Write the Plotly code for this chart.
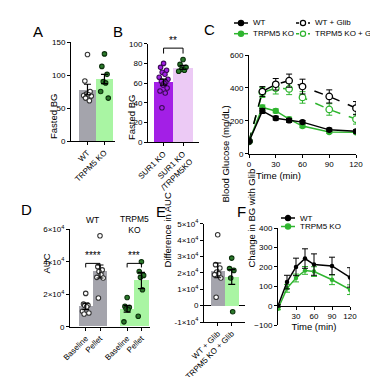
import plotly.graph_objects as go
import numpy as np

W, H = 378, 377
FONT = "Liberation Sans, Arial, sans-serif"

# ---------------- data ----------------
# Panel A
a_groups = ["WT", "TRPM5 KO"]
a_means = [78, 94]
a_sem = [8, 7]
a_wt = [131, 91, 75, 71, 70, 69, 68, 65, 61]
a_ko = [132, 113, 101, 90, 88, 75, 65]

# Panel B
b_groups = ["SUR1 KO", "SUR1 KO<br>/TRPM5KO"]
b_means = [61, 76]
b_sem = [3, 2]
b_sur1 = [80, 76, 73, 71, 69, 66, 64, 62, 61, 60, 58, 55, 52, 50, 35]
b_dko = [84, 79, 76, 74, 73, 72]

# Panel C
time = [0, 15, 30, 45, 60, 90, 120]
c_wt = [75, 260, 216, 202, 192, 145, 136]
c_wt_err = [8, 15, 12, 12, 10, 10, 10]
c_ko = [75, 281, 260, 210, 168, 132, 130]
c_ko_err = [8, 15, 12, 12, 10, 8, 8]
c_wtg = [75, 378, 422, 444, 408, 348, 277]
c_wtg_err = [8, 30, 35, 40, 45, 40, 40]
c_kog = [75, 372, 398, 394, 342, 269, 210]
c_kog_err = [8, 30, 35, 35, 35, 35, 30]
c_names = ["WT", "TRPM5 KO", "WT + Glib", "TRPM5 KO + Glib"]

# Panel D
d_ticks = ["Baseline", "Pellet", "Baseline", "Pellet"]
d_means = [12500, 34000, 11000, 28500]
d_sem = [2000, 4000, 2000, 5000]
d_wt_base = [20500, 14000, 13200, 13000, 12300, 9500, 8400, 7800]
d_wt_pel = [56000, 37000, 35000, 34000, 32000, 30400, 30000, 17700]
d_ko_base = [18000, 12500, 12000, 11000, 10500, 3000]
d_ko_pel = [40000, 34000, 31600, 30400, 22800, 6400]

# Panel E
e_groups = ["WT + Glib", "TRPM5 KO + Glib"]
e_means = [21500, 17500]
e_sem = [4500, 4500]
e_wt = [43300, 25000, 23000, 20500, 19500, 18900, 16900, 5100]
e_ko = [29000, 22600, 21500, 16900, -3700]

# Panel F
f_wt = [0, 122, 200, 243, 212, 205, 146]
f_wt_err = [5, 35, 45, 50, 55, 45, 50]
f_ko = [-15, 90, 143, 182, 176, 134, 83]
f_ko_err = [5, 20, 20, 20, 25, 25, 25]
f_names = ["WT", "TRPM5 KO"]

# ---------------- colors ----------------
GRAY = "#a4a4ac"
LGREEN = "#a9f5a3"
PURPLE = "#a31fe6"
PINK = "#eccaf5"
GREEN = "#2fb52f"
DKGREEN = "#2b7a2b"


def dx(p0, p1):
    return [p0 / W, p1 / W]


def dy(top, bottom):
    return [1 - bottom / H, 1 - top / H]


def jitter(n, spread=0.28):
    pat = [0.0, -0.55, 0.55, -0.25, 0.25, -0.8, 0.8, -0.4, 0.4, 0.1, -0.1, 0.65, -0.65, 0.3, -0.3]
    return np.array([pat[i % len(pat)] for i in range(n)]) * spread


fig = go.Figure()

axis_style = dict(showline=True, linecolor="black", linewidth=1, ticks="outside",
                  ticklen=3, tickwidth=1, tickcolor="black", showgrid=False, automargin=False,
                  zeroline=False, tickfont=dict(size=8, color="black", family=FONT))


def bar_panel(xa, ya, positions, means, sems, colors, dot_sets, dot_styles, width=1.0):
    for p, m, c in zip(positions, means, colors):
        fig.add_trace(go.Bar(x=[p], y=[m], width=width, marker=dict(color=c, line=dict(width=0)),
                             xaxis=xa, yaxis=ya, showlegend=False))
    for p, vals, st in zip(positions, dot_sets, dot_styles):
        vals = np.array(vals)
        fig.add_trace(go.Scatter(x=p + jitter(len(vals)), y=vals, mode="markers",
                                 marker=dict(size=4.5, color=st[0], line=dict(color=st[1], width=1.1)),
                                 xaxis=xa, yaxis=ya, showlegend=False, cliponaxis=False))
    fig.add_trace(go.Scatter(x=positions, y=means, mode="lines", line=dict(width=0),
                             error_y=dict(type="data", array=sems, color="black", thickness=1.2, width=3.5),
                             xaxis=xa, yaxis=ya, showlegend=False))


OPEN = ("white", "#333333")
FILLG = (DKGREEN, "#0b300b")
FILLP = (PURPLE, "#3a0a55")

# Panel A
bar_panel("x", "y", [0, 1], a_means, a_sem, [GRAY, LGREEN], [a_wt, a_ko], [OPEN, FILLG])
fig.update_layout(
    xaxis=dict(domain=dx(63, 107), range=[-0.97, 1.62], tickvals=[0, 1], ticktext=a_groups,
               tickangle=-45, anchor="y", **axis_style),
    yaxis=dict(domain=dy(34, 133), range=[0, 150], tickvals=[0, 50, 100, 150], anchor="x", **axis_style),
)

# Panel B
bar_panel("x2", "y2", [0, 1], b_means, b_sem, [PURPLE, PINK], [b_sur1, b_dko], [FILLP, FILLG])
fig.update_layout(
    xaxis2=dict(domain=dx(140, 191), range=[-0.8, 1.82], tickvals=[0, 1], ticktext=b_groups,
                tickangle=-45, anchor="y2", **axis_style),
    yaxis2=dict(domain=dy(35.7, 134.3), range=[0, 100], tickvals=[0, 20, 40, 60, 80, 100], anchor="x2", **axis_style),
)
fig.add_shape(type="path", path="M 0,90 L 0,95.5 L 1,95.5 L 1,90", xref="x2", yref="y2",
              line=dict(color="black", width=1))
fig.add_annotation(x=0.5, y=96, xref="x2", yref="y2", text="**", showarrow=False,
                   yanchor="bottom", font=dict(size=10, color="black", family=FONT))

# Panel C
c_series = [
    (c_wt, c_wt_err, "black", "solid", False),
    (c_ko, c_ko_err, GREEN, "solid", False),
    (c_wtg, c_wtg_err, "black", "dash", True),
    (c_kog, c_kog_err, GREEN, "dash", True),
]
for (vals, err, col, dash, opn), name in zip(c_series[::-1], c_names[::-1]):
    fig.add_trace(go.Scatter(
        x=time, y=vals, mode="lines+markers", name=name,
        line=dict(color=col, width=1.5, dash=dash),
        marker=dict(size=6.5 if opn else 5, color="white" if opn else col, line=dict(color=col, width=1.3),
                    symbol="circle"),
        error_y=dict(type="data", array=err, color=col, thickness=1, width=3),
        xaxis="x3", yaxis="y3", showlegend=False))
fig.update_layout(
    xaxis3=dict(domain=dx(241, 348), range=[0, 120], tickvals=[0, 30, 60, 90, 120], anchor="y3", **axis_style),
    yaxis3=dict(domain=dy(47, 145.7), range=[0, 600], tickvals=[0, 200, 400, 600], anchor="x3", **axis_style),
)

# Panel D
gap = 0.9
d_pos = [0, 1, 2 + gap, 3 + gap]
bar_panel("x4", "y4", d_pos, d_means, d_sem, [GRAY, GRAY, LGREEN, LGREEN],
          [d_wt_base, d_wt_pel, d_ko_base, d_ko_pel], [OPEN, OPEN, FILLG, FILLG])
fig.update_layout(
    xaxis4=dict(domain=dx(62, 142), range=[-1.1, 4.5], tickvals=d_pos, ticktext=d_ticks,
                tickangle=-45, anchor="y4", **axis_style),
    yaxis4=dict(domain=dy(221.3, 318.7), range=[0, 60000], tickvals=[0, 20000, 40000, 60000],
                ticktext=["0", "2×10<sup>4</sup>", "4×10<sup>4</sup>", "6×10<sup>4</sup>"], anchor="x4", **axis_style),
)
for (p0, p1), stars in [((d_pos[0], d_pos[1]), "****"), ((d_pos[2], d_pos[3]), "***")]:
    fig.add_shape(type="path", path=f"M {p0},36500 L {p0},39000 L {p1},39000 L {p1},36500",
                  xref="x4", yref="y4", line=dict(color="black", width=1))
    fig.add_annotation(x=(p0 + p1) / 2, y=39500, xref="x4", yref="y4", text=stars, showarrow=False,
                       yanchor="bottom", font=dict(size=10, color="black", family=FONT))
fig.add_annotation(x=(d_pos[0] + d_pos[1]) / 2, y=1 - 212 / H, xref="x4", yref="paper", text="WT",
                   showarrow=False, font=dict(size=8.5, color="black", family=FONT))
fig.add_annotation(x=(d_pos[2] + d_pos[3]) / 2, y=1 - 216 / H, xref="x4", yref="paper", text="TRPM5<br>KO",
                   showarrow=False, font=dict(size=8.5, color="black", family=FONT))

# Panel E
bar_panel("x5", "y5", [0, 1], e_means, e_sem, [GRAY, LGREEN], [e_wt, e_ko], [OPEN, FILLG])
fig.update_layout(
    xaxis5=dict(domain=dx(196, 237), range=[-0.98, 1.95], tickvals=[0, 1], ticktext=e_groups,
                tickangle=-45, anchor="y5", **axis_style),
    yaxis5=dict(domain=dy(215.7, 314), range=[-10000, 50000],
                tickvals=[-10000, 0, 10000, 20000, 30000, 40000, 50000],
                ticktext=["-1×10<sup>4</sup>", "0", "1×10<sup>4</sup>", "2×10<sup>4</sup>", "3×10<sup>4</sup>",
                          "4×10<sup>4</sup>", "5×10<sup>4</sup>"], anchor="x5", **axis_style),
)
fig.layout.yaxis5.update(zeroline=True, zerolinecolor="black", zerolinewidth=1)

# Panel F (time axis crosses at y = 0)
f_dom = dy(220, 317.3)
f_rng = [-100, 400]
f_zero = f_dom[0] + (0 - f_rng[0]) / (f_rng[1] - f_rng[0]) * (f_dom[1] - f_dom[0])
for vals, err, col, name in [(f_wt, f_wt_err, "black", f_names[0]), (f_ko, f_ko_err, GREEN, f_names[1])][::-1]:
    fig.add_trace(go.Scatter(
        x=time, y=vals, mode="lines+markers", name=name,
        line=dict(color=col, width=1.5), marker=dict(size=4.5, color=col),
        error_y=dict(type="data", array=err, color=col, thickness=1, width=3),
        xaxis="x6", yaxis="y6", showlegend=False))
fig.update_layout(
    xaxis6=dict(domain=dx(270, 342), range=[0, 120], tickvals=[30, 60, 90, 120], anchor="free",
                position=f_zero,
                title=dict(text="Time (min)", standoff=1, font=dict(size=9.5, color="black", family=FONT)),
                **axis_style),
    yaxis6=dict(domain=f_dom, range=f_rng, tickvals=[-100, 0, 100, 200, 300, 400], anchor="x6", **axis_style),
)

# ---------------- manual legends ----------------
def legend_entry(x0, yc, col, dash, opn, text, size=8):
    xs, xe = x0 / W, (x0 + 14) / W
    y = 1 - yc / H
    fig.add_shape(type="line", x0=xs, x1=xe, y0=y, y1=y, xref="paper", yref="paper",
                  line=dict(color=col, width=1.5, dash=dash))
    fig.add_shape(type="circle", xref="paper", yref="paper", xsizemode="pixel", ysizemode="pixel",
                  xanchor=(xs + xe) / 2, yanchor=y, x0=-2.6, x1=2.6, y0=-2.6, y1=2.6,
                  fillcolor="white" if opn else col, line=dict(color=col, width=1.2))
    fig.add_annotation(x=(x0 + 17) / W, y=y, xref="paper", yref="paper", text=text, showarrow=False,
                       xanchor="left", yanchor="middle", font=dict(size=size, color="black", family=FONT))


c_pos = [(226, 15), (226, 25.7), (288, 15), (288, 25.7)]
for (x0, yc), (vals, err, col, dash, opn), name in zip(c_pos, c_series, c_names):
    legend_entry(x0, yc, col, "dot" if dash == "dash" else "solid", opn, name)
for (x0, yc), col, name in zip([(273, 210), (273, 218.5)], ["black", GREEN], f_names):
    legend_entry(x0, yc, col, "solid", False, name)

# ---------------- axis titles & panel letters ----------------
def vtitle(xp, yp, text, size=9.5):
    fig.add_annotation(x=xp / W, y=1 - yp / H, xref="paper", yref="paper", text=text, showarrow=False,
                       textangle=-90, font=dict(size=size, color="black", family=FONT))


vtitle(38, 84, "Fasted BG")
vtitle(116, 85, "Fasted BG")
vtitle(217, 96, "Blood Glucose (mg/dL)")
vtitle(30, 268, "AUC")
vtitle(159, 262, "Difference in AUC")
vtitle(243, 262, "Change in BG with Glib")

fig.add_annotation(x=295 / W, y=1 - 167 / H, xref="paper", yref="paper", text="Time (min)", showarrow=False,
                   font=dict(size=9.5, color="black", family=FONT))

for xp, yp, t in [(23, 13, "A"), (103, 13, "B"), (201, 11, "C"), (11, 201, "D"), (153, 203, "E"), (233, 203, "F")]:
    fig.add_annotation(x=xp / W, y=1 - yp / H, xref="paper", yref="paper", text=t, showarrow=False,
                       font=dict(size=15, color="black", family=FONT))

fig.add_annotation(x=371 / W, y=0.5, xref="paper", yref="paper", showarrow=False, textangle=90,
                   text="Downloaded from http://diabetesjournals.org/diabetes/article-pdf/doi/10.2337/db24-0650/791474/db240650.pdf by Vrije Universiteit Brussel, Bibliotheek user on 19 December 2024",
                   font=dict(size=4.2, color="#666666", family=FONT))

fig.update_layout(width=W, height=H, margin=dict(l=0, r=0, t=0, b=0), paper_bgcolor="white",
                  plot_bgcolor="white", showlegend=False, bargap=0, font=dict(family=FONT))
fig.write_html("out.html")
